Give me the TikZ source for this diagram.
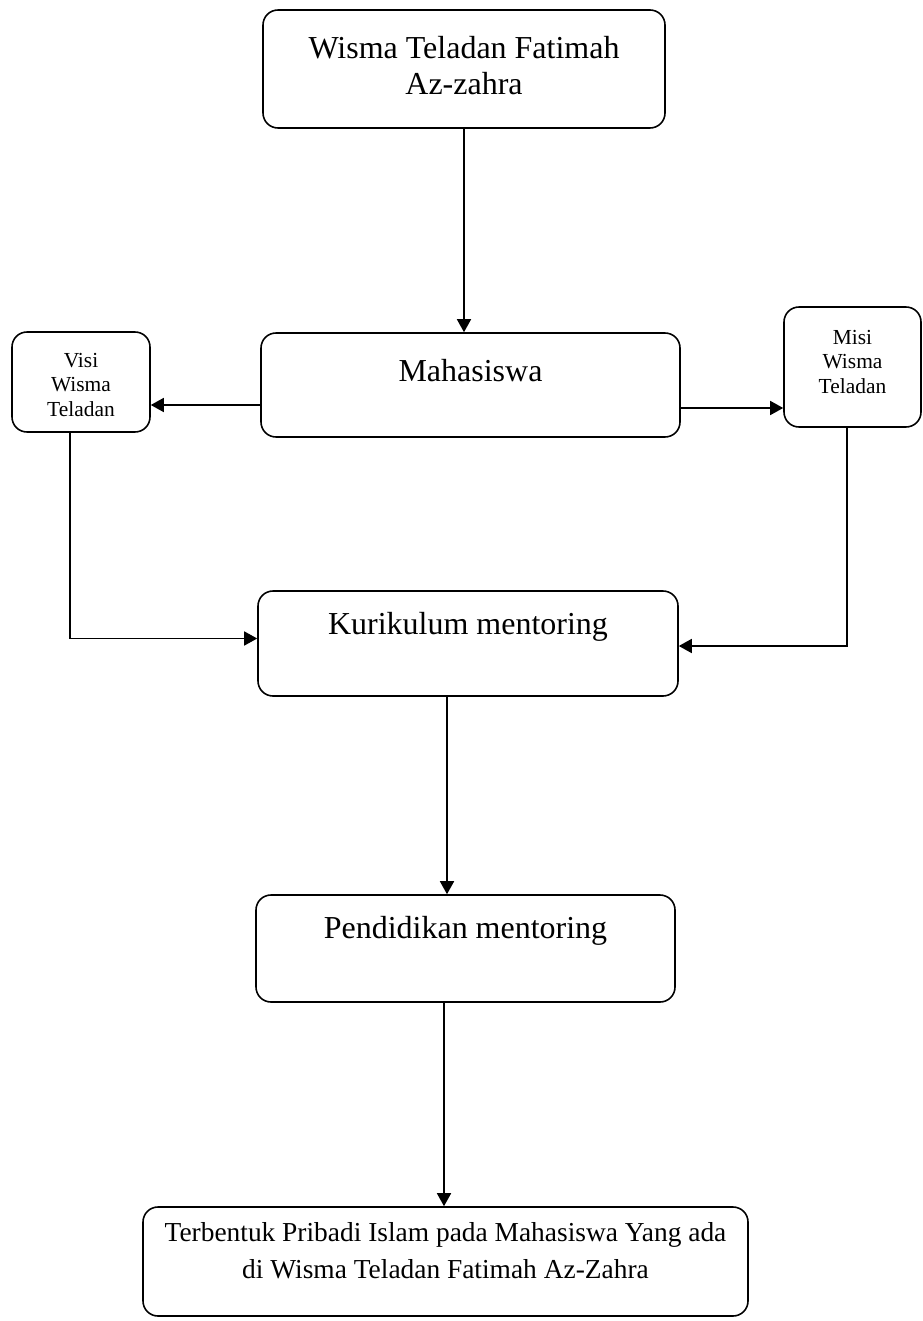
\documentclass[tikz,border=0pt]{standalone}
\usepackage{fontspec}
\setmainfont{Liberation Serif}
\usetikzlibrary{arrows.meta}

\begin{document}
\begin{tikzpicture}[
        kotak/.style={draw, line width=0.9pt, rounded corners=0.3cm, inner sep=0pt, align=center},
        besar/.style={kotak, font=\fontsize{18.2}{21}\selectfont},
        kecil/.style={kotak, font=\fontsize{12.2}{13.8}\selectfont},
        akhir/.style={kotak, font=\fontsize{15.6}{20.5}\selectfont},
        panah/.style={line width=0.9pt, -{Triangle[length=0.26cm,width=0.28cm]}}
    ]
            \useasboundingbox (0,0) rectangle (18.44,-26.42);

            \node[besar, minimum width=8.04cm, text height=1.70cm, text depth=0.66cm] (wisma) at (9.28,-1.38) {Wisma Teladan Fatimah\\Az-zahra};
            \node[besar, minimum width=8.38cm, text height=0.96cm, text depth=1.12cm] (mhs) at (9.41,-7.70) {Mahasiswa};
            \node[kecil, minimum width=2.76cm, text height=1.68cm, text depth=0.32cm] (visi) at (1.62,-7.64) {Visi\\Wisma\\Teladan};
            \node[kecil, minimum width=2.74cm, text height=1.72cm, text depth=0.68cm] (misi) at (17.05,-7.34) {Misi\\Wisma\\Teladan};
            \node[besar, minimum width=8.40cm, text height=0.86cm, text depth=1.24cm] (kur) at (9.36,-12.87) {Kurikulum mentoring};
            \node[besar, minimum width=8.38cm, text height=0.86cm, text depth=1.28cm] (pend) at (9.31,-18.97) {Pendidikan mentoring};
            \node[akhir, minimum width=12.10cm, text height=1.42cm, text depth=0.76cm] (hasil) at (8.91,-25.23) {Terbentuk Pribadi Islam pada Mahasiswa Yang ada\\di Wisma Teladan Fatimah Az-Zahra};

            \coordinate (mkiri) at ([yshift=-4mm]mhs.west);
            \coordinate (mkanan) at ([yshift=-4.6mm]mhs.east);
            \coordinate (vbawah) at ([xshift=-2.2mm]visi.south);
            \coordinate (mbawah) at ([xshift=-1.1mm]misi.south);
            \coordinate (kbawah) at ([xshift=-4.2mm]kur.south);
            \coordinate (pbawah) at ([xshift=-4.3mm]pend.south);

            \draw[panah] (wisma.south) -- (wisma.south |- mhs.north);
            \draw[panah] (mkiri) -- (visi.east |- mkiri);
            \draw[panah] (mkanan) -- (misi.west |- mkanan);
            \draw[panah] (vbawah) |- ([yshift=1mm]kur.west);
            \draw[panah] (mbawah) |- ([yshift=-0.5mm]kur.east);
            \draw[panah] (kbawah) -- (kbawah |- pend.north);
            \draw[panah] (pbawah) -- (pbawah |- hasil.north);
        \end{tikzpicture}
\end{document}
